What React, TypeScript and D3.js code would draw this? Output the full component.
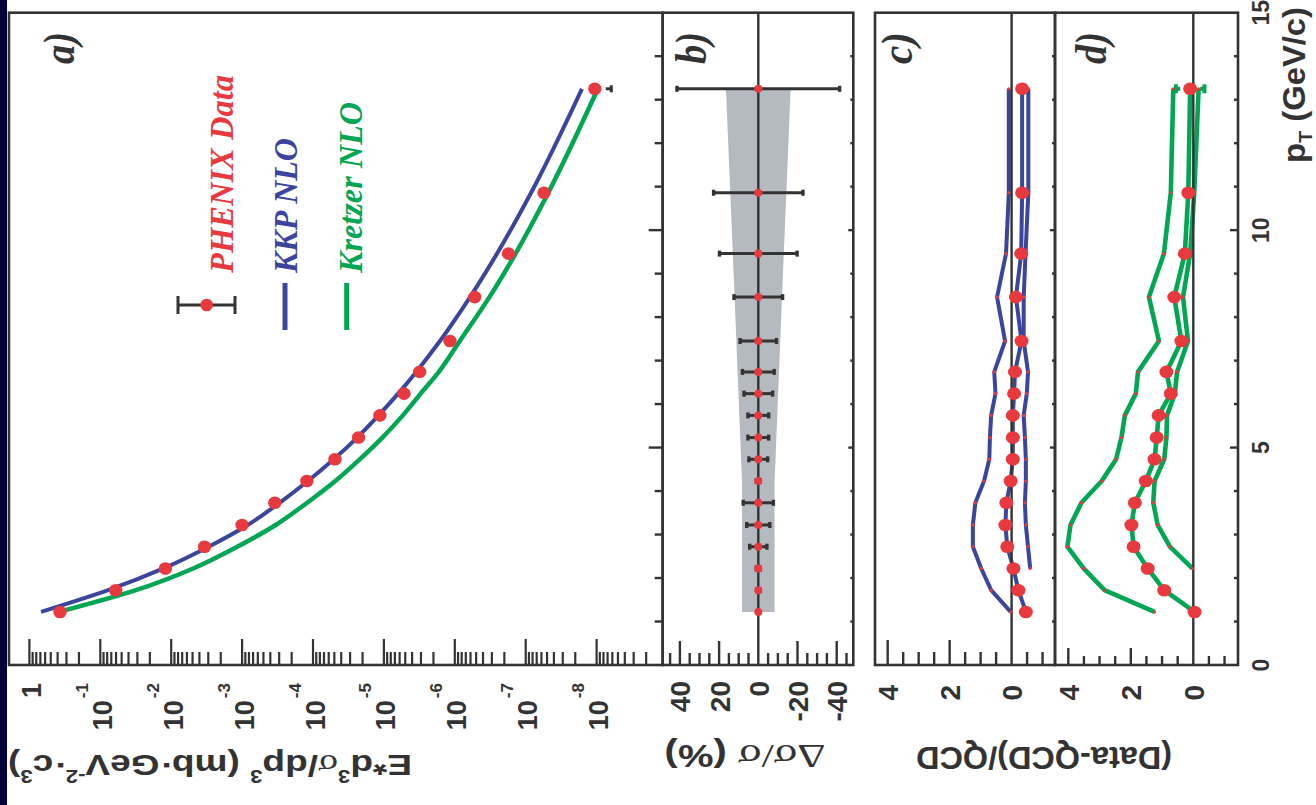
import React from "react";
import * as d3 from "d3";

// ---------- data ----------
const pT = [1.22, 1.72, 2.22, 2.72, 3.22, 3.73, 4.23, 4.73, 5.23, 5.74, 6.24, 6.74, 7.45, 8.46, 9.46, 10.86, 13.25];
const phenixData = [0.37, 0.0607, 0.01208, 3.39e-3, 1.0e-3, 3.46e-4, 1.22e-4, 4.9e-5, 2.28e-5, 1.14e-5, 5.21e-6, 3.13e-6, 1.17e-6, 5.24e-7, 1.75e-7, 5.52e-8, 1.06e-8];
const kkpNLO = [0.685, 0.0778, 0.01285, 2.97e-3, 8.33e-4, 2.96e-4, 1.18e-4, 5.1e-5, 2.38e-5, 1.19e-5, 6.3e-6, 3.5e-6, 1.62e-6, 6.1e-7, 2.54e-7, 8.4e-8, 1.61e-8];
const kretzerNLO = [0.385, 0.0315, 4.9e-3, 1.17e-3, 3.36e-4, 1.21e-4, 4.84e-5, 2.19e-5, 1.05e-5, 5.4e-6, 3.03e-6, 1.68e-6, 8.5e-7, 3.25e-7, 1.39e-7, 4.8e-8, 9.6e-9];
const statErrPct = [0.5, 0.8, 1.0, 4.4, 5.9, 7.7, 1.0, 4.8, 5.3, 5.3, 7.3, 8.1, 9.3, 12.4, 19.8, 22.8, 41.5];
const sysBandPct = [8.3, 8.3, 8.3, 8.3, 8.3, 8.3, 8.3, 8.8, 9.2, 9.7, 10.1, 10.6, 11.2, 12.1, 13.0, 14.3, 16.5];

const kkpRatio = [-0.46, -0.22, -0.06, 0.14, 0.2, 0.17, 0.03, -0.04, -0.04, -0.04, -0.08, -0.11, -0.32, -0.14, -0.31, -0.34, -0.34];
const kkpRatioHalfScale = [0.03, 0.66, 0.98, 1.25, 1.25, 1.17, 0.89, 0.72, 0.7, 0.66, 0.52, 0.56, 0.21, 0.47, 0.18, 0.09, 0.09];
const kkpRatioDoubleScale = [null, null, -0.6, -0.53, -0.46, -0.43, -0.46, -0.46, -0.43, -0.39, -0.49, -0.53, -0.39, -0.39, -0.45, -0.54, -0.54];

const kretzerRatio = [-0.04, 0.93, 1.46, 1.91, 1.98, 1.87, 1.52, 1.24, 1.17, 1.11, 0.72, 0.86, 0.38, 0.61, 0.27, 0.16, 0.1];
const kretzerRatioHalfScale = [1.24, 2.84, 3.51, 4.03, 3.93, 3.58, 2.93, 2.47, 2.3, 2.19, 1.84, 1.77, 1.1, 1.42, 0.94, 0.72, 0.64];
const kretzerRatioDoubleScale = [null, null, 0.03, 0.75, 1.14, 1.28, 1.24, 0.93, 0.86, 0.84, 0.59, 0.52, 0.17, 0.33, 0.1, -0.03, -0.17];

const logDecadeLabels = ["1", "-1", "-2", "-3", "-4", "-5", "-6", "-7", "-8"];
const logDecadeValues = [1, 1e-1, 1e-2, 1e-3, 1e-4, 1e-5, 1e-6, 1e-7, 1e-8];
const bTickLabels = [40, 20, 0, -20, -40];
const ratioTickLabels = [4, 2, 0];
const pTTickLabels = [0, 5, 10, 15];

// ---------- style ----------
const RED = "#e8393e";
const BLUE = "#3b459d";
const GREEN = "#00a652";
const AX = "#333333";
const BAND = "#b5b9c0";
const SANS = "'Liberation Sans', Arial, Helvetica, sans-serif";
const SERIF = "'Liberation Serif', 'Times New Roman', serif";

export default function App() {
  // Drawing is done in the un-rotated frame (805 wide x 1316 tall), then rotated -90deg.
  const x = d3.scaleLinear().domain([0, 15]).range([140, 792.3]);
  const yA = d3.scaleLog().domain([1, 1e-8]).range([29.4, 596.6]);
  const yB = d3.scaleLinear().domain([40, -40]).range([679.9, 836.7]);
  const yC = d3.scaleLinear().domain([4, 0]).range([887.7, 1011.6]);
  const yD = d3.scaleLinear().domain([4, 0]).range([1068.3, 1193.3]);

  const X0 = 140;
  const X1 = 792.3;
  const frames = [
    { y0: 9, y1: 662.7 },
    { y0: 662.7, y1: 853.3 },
    { y0: 875, y1: 1055 },
    { y0: 1055, y1: 1238 },
  ];

  const lineA = (vals: number[]) =>
    d3
      .line<number>()
      .x((_, i) => x(pT[i]))
      .y((v) => yA(v))
      .curve(d3.curveMonotoneX)(vals) || "";

  const ratioLine = (vals: (number | null)[], ys: d3.ScaleLinear<number, number>) =>
    d3
      .line<number | null>()
      .defined((v) => v !== null)
      .x((_, i) => x(pT[i]))
      .y((v) => ys(v as number))(vals) || "";

  const band =
    d3
      .area<number>()
      .x((_, i) => x(pT[i]))
      .y0((v) => yB(v))
      .y1((v) => yB(-v))(sysBandPct) || "";

  // log ticks
  const logTicks: { v: number; major: boolean }[] = [];
  for (let e = 0; e <= 9; e++) {
    for (let k = 1; k <= 9; k++) {
      const v = k * Math.pow(10, -e);
      const p = yA(v);
      if (p >= 11 && p <= 661) logTicks.push({ v, major: k === 1 });
    }
  }
  const pTminor = d3.range(1, 15);
  const bTicks = d3.range(-45, 50, 5).filter((v) => v !== 0);
  const rTicks = d3.range(-1, 4.01, 0.5).filter((v) => Math.abs(v) > 1e-9);

  // asymmetric error segments with a gap around the marker
  const gapBar = (
    cx: number,
    cy: number,
    yHi: number,
    yLo: number,
    gap: number,
    color: string,
    sw: number,
    capHalf: number,
    key: string
  ) => {
    const out: React.ReactNode[] = [];
    const top = Math.min(yHi, yLo);
    const bot = Math.max(yHi, yLo);
    if (cy - top > gap) {
      out.push(<line key={key + "u"} x1={cx} x2={cx} y1={top} y2={cy - gap} stroke={color} strokeWidth={sw} />);
      out.push(<line key={key + "uc"} x1={cx - capHalf} x2={cx + capHalf} y1={top} y2={top} stroke={color} strokeWidth={sw} />);
    }
    if (bot - cy > gap) {
      out.push(<line key={key + "l"} x1={cx} x2={cx} y1={cy + gap} y2={bot} stroke={color} strokeWidth={sw} />);
      out.push(<line key={key + "lc"} x1={cx - capHalf} x2={cx + capHalf} y1={bot} y2={bot} stroke={color} strokeWidth={sw} />);
    }
    return out;
  };

  const ratioPanel = (
    ys: d3.ScaleLinear<number, number>,
    mid: number[],
    half: number[],
    dbl: (number | null)[],
    color: string,
    sw: number,
    key: string
  ) => (
    <g key={key}>
      <path d={ratioLine(half, ys)} fill="none" stroke={color} strokeWidth={sw} strokeLinejoin="round" />
      <path d={ratioLine(dbl, ys)} fill="none" stroke={color} strokeWidth={sw} strokeLinejoin="round" />
      <path d={ratioLine(mid, ys)} fill="none" stroke={color} strokeWidth={sw} strokeLinejoin="round" />
      <line x1={X0} x2={X1} y1={ys(0)} y2={ys(0)} stroke={AX} strokeWidth={2.4} />
      {mid.map((v, i) => {
        const e = (statErrPct[i] / 100) * (1 + v);
        return gapBar(x(pT[i]), ys(v), ys(v + e), ys(v - e), 10, color, 4, 4.5, key + "e" + i);
      })}
      {half.map((v, i) => (
        <circle key={key + "h" + i} cx={x(pT[i])} cy={ys(v)} r={1.6} fill={RED} />
      ))}
      {dbl.map((v, i) =>
        v === null ? null : <circle key={key + "d" + i} cx={x(pT[i])} cy={ys(v)} r={1.6} fill={RED} />
      )}
      {mid.map((v, i) => (
        <ellipse key={key + "m" + i} cx={x(pT[i])} cy={ys(v)} rx={6.3} ry={7} fill={RED} />
      ))}
    </g>
  );

  return (
    <div style={{ position: "fixed", left: 0, top: 0, width: 1316, height: 805, background: "#fff" }}>
      <svg width={1316} height={805} style={{ display: "block" }}>
        <rect x={0} y={0} width={1316} height={805} fill="#ffffff" />
        <rect x={0} y={0} width={7} height={805} fill="#03033a" />
        <g transform="translate(0,805) rotate(-90)">
          {/* ---------- panel a ---------- */}
          <path d={lineA(kretzerNLO)} fill="none" stroke={GREEN} strokeWidth={4.5} />
          <path d={lineA(kkpNLO)} fill="none" stroke={BLUE} strokeWidth={4} />
          {phenixData.map((v, i) => {
            const e = statErrPct[i] / 100;
            return gapBar(x(pT[i]), yA(v), yA(v * (1 + e)), yA(v * (1 - e)), 11, AX, 3, 3.5, "ae" + i);
          })}
          {phenixData.map((v, i) => (
            <ellipse key={"ad" + i} cx={x(pT[i])} cy={yA(v)} rx={6.3} ry={6.7} fill={RED} />
          ))}

          {/* legend */}
          <line x1={500} x2={500} y1={178} y2={235} stroke={AX} strokeWidth={3} />
          <line x1={491} x2={509} y1={178} y2={178} stroke={AX} strokeWidth={3} />
          <line x1={491} x2={509} y1={235} y2={235} stroke={AX} strokeWidth={3} />
          <circle cx={500} cy={206.7} r={6.3} fill={RED} />
          <line x1={475} x2={522} y1={285} y2={285} stroke={BLUE} strokeWidth={5} />
          <line x1={475} x2={522} y1={346.7} y2={346.7} stroke={GREEN} strokeWidth={5} />
          <text x={532} y={233} fill={RED} fontFamily={SERIF} fontStyle="italic" fontWeight="bold" fontSize={34} textLength={198} lengthAdjust="spacingAndGlyphs">
            PHENIX Data
          </text>
          <text x={532} y={297} fill={BLUE} fontFamily={SERIF} fontStyle="italic" fontWeight="bold" fontSize={34} textLength={135} lengthAdjust="spacingAndGlyphs">
            KKP NLO
          </text>
          <text x={532} y={362} fill={GREEN} fontFamily={SERIF} fontStyle="italic" fontWeight="bold" fontSize={34} textLength={171} lengthAdjust="spacingAndGlyphs">
            Kretzer NLO
          </text>

          {/* ---------- panel b ---------- */}
          <path d={band} fill={BAND} />
          <line x1={X0} x2={X1} y1={yB(0)} y2={yB(0)} stroke={AX} strokeWidth={2.4} />
          {statErrPct.map((e, i) => {
            const cx = x(pT[i]);
            return (
              <g key={"be" + i}>
                <line x1={cx} x2={cx} y1={yB(e)} y2={yB(-e)} stroke={AX} strokeWidth={3} />
                <line x1={cx - 3} x2={cx + 3} y1={yB(e)} y2={yB(e)} stroke={AX} strokeWidth={3.4} />
                <line x1={cx - 3} x2={cx + 3} y1={yB(-e)} y2={yB(-e)} stroke={AX} strokeWidth={3.4} />
              </g>
            );
          })}
          {pT.map((p, i) => (
            <circle key={"bd" + i} cx={x(p)} cy={yB(0)} r={4} fill={RED} />
          ))}

          {/* ---------- panels c, d ---------- */}
          {ratioPanel(yC, kkpRatio, kkpRatioHalfScale, kkpRatioDoubleScale, BLUE, 4, "c")}
          {ratioPanel(yD, kretzerRatio, kretzerRatioHalfScale, kretzerRatioDoubleScale, GREEN, 4.6, "d")}

          {/* ---------- frames ---------- */}
          {frames.map((f, i) => (
            <rect key={"fr" + i} x={X0} y={f.y0} width={X1 - X0} height={f.y1 - f.y0} fill="none" stroke={AX} strokeWidth={2.6} />
          ))}

          {/* pT ticks on the bottom edge of each panel */}
          {pTminor.map((p) => {
            const major = p % 5 === 0;
            return (
              <g key={"pt" + p}>
                <line x1={x(p)} x2={x(p)} y1={662.7} y2={662.7 - (major ? 14 : 8)} stroke={AX} strokeWidth={2.4} />
                <line x1={x(p)} x2={x(p)} y1={853.3} y2={853.3 - (major ? 5 : 3)} stroke={AX} strokeWidth={2.4} />
                <line x1={x(p)} x2={x(p)} y1={1055} y2={1055 - (major ? 5 : 3)} stroke={AX} strokeWidth={2.4} />
                <line x1={x(p)} x2={x(p)} y1={1238} y2={1238 - (major ? 8 : 4)} stroke={AX} strokeWidth={2.4} />
              </g>
            );
          })}

          {/* value-axis ticks */}
          {logTicks.map((t, i) => (
            <line key={"lt" + i} x1={X0} x2={X0 + (t.major ? 26 : 13)} y1={yA(t.v)} y2={yA(t.v)} stroke={AX} strokeWidth={2.2} />
          ))}
          {bTicks.map((v) => (
            <line key={"bt" + v} x1={X0} x2={X0 + (v % 20 === 0 ? 24 : 12)} y1={yB(v)} y2={yB(v)} stroke={AX} strokeWidth={2.4} />
          ))}
          {rTicks.map((v) => (
            <line key={"ct" + v} x1={X0} x2={X0 + (v === 4 || v === 2 ? 25 : 13)} y1={yC(v)} y2={yC(v)} stroke={AX} strokeWidth={2.4} />
          ))}
          {rTicks.map((v) => (
            <line key={"dt" + v} x1={X0} x2={X0 + (v === 4 || v === 2 ? 17 : 9)} y1={yD(v)} y2={yD(v)} stroke={AX} strokeWidth={2.4} />
          ))}

          {/* tick labels */}
          {logDecadeValues.map((v, i) =>
            i === 0 ? (
              <text key={"ll" + i} x={122} y={yA(v) + 3} textAnchor="end" dominantBaseline="central" fontFamily={SANS} fontWeight="bold" fontSize={27} fill={AX}>
                {logDecadeLabels[i]}
              </text>
            ) : (
              <text key={"ll" + i} x={122} y={yA(v) + 11.5} textAnchor="end" fontFamily={SANS} fontWeight="bold" fontSize={27} fill={AX}>
                10
                <tspan dx={2} dy={-24} fontSize={17}>
                  {logDecadeLabels[i]}
                </tspan>
              </text>
            )
          )}
          {bTickLabels.map((v) => (
            <text key={"bl" + v} x={124} y={yB(v) + 1} textAnchor="end" dominantBaseline="central" fontFamily={SANS} fontWeight="bold" fontSize={28} fill={AX}>
              {v}
            </text>
          ))}
          {ratioTickLabels.map((v) => (
            <text key={"cl" + v} x={120} y={yC(v) + 1} textAnchor="end" dominantBaseline="central" fontFamily={SANS} fontWeight="bold" fontSize={28} fill={AX}>
              {v}
            </text>
          ))}
          {ratioTickLabels.map((v) => (
            <text key={"dl" + v} x={120} y={yD(v) + 1} textAnchor="end" dominantBaseline="central" fontFamily={SANS} fontWeight="bold" fontSize={28} fill={AX}>
              {v}
            </text>
          ))}
          {pTTickLabels.map((v) => (
            <text key={"xl" + v} x={x(v)} y={1269} textAnchor="middle" fontFamily={SANS} fontWeight="bold" fontSize={23} fill={AX}>
              {v}
            </text>
          ))}

          {/* axis titles */}
          <text x={798} y={1305} textAnchor="end" fontFamily={SANS} fontWeight="bold" fontSize={31} fill={AX} textLength={156} lengthAdjust="spacingAndGlyphs">
            p
            <tspan dy={7} fontSize={19}>
              T
            </tspan>
            <tspan dy={-7}>{" (GeV/c)"}</tspan>
          </text>
          <text transform="translate(50,210) rotate(-90)" textAnchor="middle" fontFamily={SANS} fontWeight="bold" fontSize={30} fill={AX} textLength={404} lengthAdjust="spacingAndGlyphs">
            E*d
            <tspan dy={-15} fontSize={18}>3</tspan>
            <tspan dy={15} fontFamily={SERIF} fontWeight="normal">σ</tspan>
            <tspan>/dp</tspan>
            <tspan dy={-15} fontSize={18}>3</tspan>
            <tspan dy={15}>{" (mb·GeV"}</tspan>
            <tspan dy={-15} fontSize={18}>-2</tspan>
            <tspan dy={15}>·c</tspan>
            <tspan dy={-15} fontSize={18}>3</tspan>
            <tspan dy={15}>)</tspan>
          </text>
          <text transform="translate(60,745) rotate(-90)" textAnchor="middle" fontFamily={SANS} fontWeight="bold" fontSize={31} fill={AX} textLength={161} lengthAdjust="spacingAndGlyphs">
            <tspan fontFamily={SERIF} fontWeight="normal" fontSize={34}>Δσ/σ</tspan>
            <tspan>{" (%)"}</tspan>
          </text>
          <text transform="translate(58,1044) rotate(-90)" textAnchor="middle" fontFamily={SANS} fontWeight="bold" fontSize={31} fill={AX} textLength={256} lengthAdjust="spacingAndGlyphs">
            (Data-QCD)/QCD
          </text>

          {/* panel labels */}
          {[
            { t: "a)", y: 74 },
            { t: "b)", y: 706 },
            { t: "c)", y: 912 },
            { t: "d)", y: 1106 },
          ].map((l) => (
            <text key={l.t} x={741} y={l.y} fontFamily={SERIF} fontStyle="italic" fontWeight="bold" fontSize={44} fill={AX} textLength={32} lengthAdjust="spacingAndGlyphs">
              {l.t}
            </text>
          ))}
        </g>
      </svg>
    </div>
  );
}
